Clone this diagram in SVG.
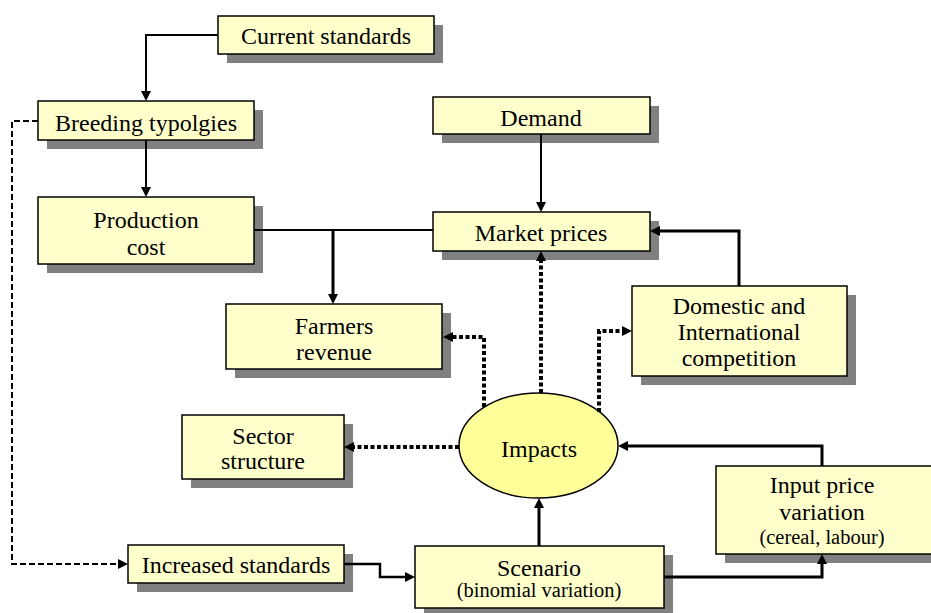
<svg xmlns="http://www.w3.org/2000/svg" width="931" height="613" viewBox="0 0 931 613">
  <style>
    .shadow { fill: #808080; }
    .box { fill: #FFFFCC; stroke: #000; stroke-width: 1.5; }
    .oval { fill: #FFFF99; stroke: #000; stroke-width: 1.5; }
    text { font-family: 'Liberation Serif', 'Times New Roman', serif; font-size: 24px; fill: #000; text-anchor: middle; }
    text.small { font-size: 20.5px; }
    .link { fill: none; stroke: #000; stroke-width: 2; }
    .thick { stroke-width: 3; }
    .dashed { stroke-dasharray: 6 3; }
    .dotted { stroke-width: 4; stroke-dasharray: 4 2.5; }
  </style>
  <defs>
    <marker id="arrow" markerUnits="userSpaceOnUse" markerWidth="10" markerHeight="10" refX="3" refY="5" orient="auto">
      <path d="M0,0 L10,5 L0,10 z" fill="#000"/>
    </marker>
  </defs>

  <rect width="931" height="613" fill="#fff"/>

  <g id="current-standards">
    <rect class="shadow" x="227" y="25" width="216" height="38"/>
    <rect class="box" x="218" y="16" width="216" height="38"/>
    <text x="326" y="44">Current standards</text>
  </g>

  <g id="breeding-typologies">
    <rect class="shadow" x="47" y="110" width="216" height="39"/>
    <rect class="box" x="38" y="101" width="216" height="39"/>
    <text x="146" y="131">Breeding typolgies</text>
  </g>

  <g id="production-cost">
    <rect class="shadow" x="47" y="206" width="216" height="67"/>
    <rect class="box" x="38" y="197" width="216" height="67"/>
    <text x="146" y="228">Production</text>
    <text x="146" y="255">cost</text>
  </g>

  <g id="demand">
    <rect class="shadow" x="442" y="106" width="217" height="37"/>
    <rect class="box" x="433" y="97" width="217" height="37"/>
    <text x="541" y="126">Demand</text>
  </g>

  <g id="market-prices">
    <rect class="shadow" x="442" y="221" width="217" height="39"/>
    <rect class="box" x="433" y="212" width="217" height="39"/>
    <text x="541" y="241">Market prices</text>
  </g>

  <g id="domestic-international">
    <rect class="shadow" x="641" y="295" width="215" height="90"/>
    <rect class="box" x="632" y="286" width="215" height="90"/>
    <text x="739" y="314">Domestic and</text>
    <text x="739" y="340">International</text>
    <text x="739" y="366">competition</text>
  </g>

  <g id="farmers-revenue">
    <rect class="shadow" x="235" y="313" width="216" height="65"/>
    <rect class="box" x="226" y="304" width="216" height="65"/>
    <text x="334" y="334">Farmers</text>
    <text x="334" y="360">revenue</text>
  </g>

  <g id="sector-structure">
    <rect class="shadow" x="191" y="424" width="162" height="64"/>
    <rect class="box" x="182" y="415" width="162" height="64"/>
    <text x="263" y="444">Sector</text>
    <text x="263" y="469">structure</text>
  </g>

  <g id="increased-standards">
    <rect class="shadow" x="137" y="554" width="216" height="38"/>
    <rect class="box" x="128" y="545" width="216" height="38"/>
    <text x="236" y="573">Increased standards</text>
  </g>

  <g id="scenario">
    <rect class="shadow" x="424" y="555" width="249" height="62"/>
    <rect class="box" x="415" y="546" width="249" height="62"/>
    <text x="539" y="576">Scenario</text>
    <text class="small" x="539" y="597">(binomial variation)</text>
  </g>

  <g id="input-price-variation">
    <rect class="shadow" x="725" y="475" width="220" height="88"/>
    <rect class="box" x="716" y="466" width="220" height="88"/>
    <text x="822" y="493">Input price</text>
    <text x="822" y="520">variation</text>
    <text class="small" x="822" y="544">(cereal, labour)</text>
  </g>

  <g id="impacts">
    <ellipse class="oval" cx="538.5" cy="445.5" rx="79.5" ry="52.5"/>
    <text x="539" y="457">Impacts</text>
  </g>

  <g id="connectors">
    <path class="link" d="M218,35 H146 V94" marker-end="url(#arrow)"/>
    <path class="link" d="M146,140 V190" marker-end="url(#arrow)"/>
    <path class="link dashed" d="M38,121 H12 V564 H121" marker-end="url(#arrow)"/>
    <path class="link" d="M254,230 H433"/>
    <path class="link thick" d="M333,230 V297" marker-end="url(#arrow)"/>
    <path class="link" d="M541,134 V205" marker-end="url(#arrow)"/>
    <path class="link thick" d="M739,286 V231 H657" marker-end="url(#arrow)"/>
    <path class="link dotted" d="M541,393 V258" marker-end="url(#arrow)"/>
    <path class="link dotted" d="M599,412 V331 H625" marker-end="url(#arrow)"/>
    <path class="link dotted" d="M484,407 V337 H450" marker-end="url(#arrow)"/>
    <path class="link dotted" d="M459,447 H351" marker-end="url(#arrow)"/>
    <path class="link" style="stroke-width:2.5" d="M344,564 H380 V577 H408" marker-end="url(#arrow)"/>
    <path class="link thick" d="M539,546 V505" marker-end="url(#arrow)"/>
    <path class="link thick" d="M822,466 V446 H625" marker-end="url(#arrow)"/>
    <path class="link thick" d="M664,577 H822 V561" marker-end="url(#arrow)"/>
  </g>
</svg>
